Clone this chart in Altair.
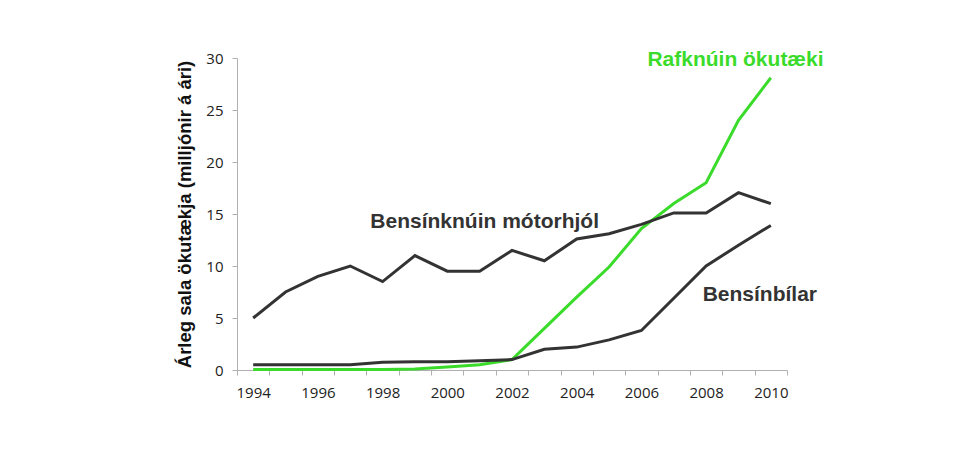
import pandas as pd
import altair as alt

years = list(range(1994, 2011))

# Annual sales, millions per year
electric = [0.05, 0.05, 0.05, 0.05, 0.05, 0.1, 0.3, 0.5, 1.0, 4.0, 7.0, 9.9, 13.6, 16.0, 18.0, 24.0, 28.1]
motorcycles = [5.0, 7.5, 9.0, 10.0, 8.5, 11.0, 9.5, 9.5, 11.5, 10.5, 12.6, 13.1, 14.0, 15.1, 15.1, 17.05, 16.0]
cars = [0.5, 0.5, 0.5, 0.5, 0.75, 0.8, 0.8, 0.9, 1.0, 2.0, 2.2, 2.9, 3.8, 6.9, 10.0, 12.0, 13.9]

series_names = ["Rafknúin ökutæki", "Bensínknúin mótorhjól", "Bensínbílar"]
series_values = [electric, motorcycles, cars]
series_colors = ["#3BDB2B", "#333333", "#333333"]

rows = []
for name, vals in zip(series_names, series_values):
    for y, v in zip(years, vals):
        rows.append({"Ár": y, "Sala": v, "Röð": name})
df = pd.DataFrame(rows)

# label anchors (year, value) for the in-chart series names
label_years = [2009, 2001, 2010]
label_values = [29.8, 14.2, 7.2]
label_dx = [-3, 5, -11]
labels = pd.DataFrame({"Ár": label_years, "Sala": label_values, "Röð": series_names})

x_scale = alt.Scale(type="band", paddingInner=0, paddingOuter=0)
y_scale = alt.Scale(domain=[0, 30])
color_scale = alt.Scale(domain=series_names, range=series_colors)

lines = alt.Chart(df).mark_line(strokeWidth=3).encode(
    x=alt.X("Ár:O", scale=x_scale, axis=alt.Axis(
        title=None, labelAngle=0, tickBand="extent",
        labelExpr="datum.value % 2 == 0 ? datum.label : ''",
        labelFont="Open Sans", labelFontSize=15, labelColor="#222222",
        labelPadding=10, domainColor="#b0b0b0", tickColor="#b0b0b0", tickSize=5,
    )),
    y=alt.Y("Sala:Q", scale=y_scale, axis=alt.Axis(
        title="Árleg sala ökutækja (milljónir á ári)", values=[0, 5, 10, 15, 20, 25, 30],
        grid=False, labelFont="Open Sans", labelFontSize=15, labelColor="#222222",
        labelPadding=9, domainColor="#b0b0b0", tickColor="#b0b0b0", tickSize=5,
        titleFont="Liberation Sans", titleFontSize=18.5, titleFontWeight="bold",
        titleColor="#111111", titlePadding=11,
    )),
    color=alt.Color("Röð:N", scale=color_scale, legend=None),
    detail="Röð:N",
)

texts = alt.layer(*[
    alt.Chart(labels.iloc[[i]]).mark_text(
        font="Liberation Sans", fontSize=21, fontWeight="bold", align="center",
        baseline="middle", dx=label_dx[i], color=series_colors[i]
    ).encode(
        x=alt.X("Ár:O", scale=x_scale),
        y=alt.Y("Sala:Q", scale=y_scale),
        text="Röð:N",
    )
    for i in range(len(series_names))
])

chart = alt.layer(lines, texts).properties(
    width=550, height=312,
    autosize=alt.AutoSizeParams(type="none"),
    padding={"left": 229, "top": 50, "right": 160, "bottom": 60},
    background="white",
).configure_view(stroke=None)

chart.save("out.html", embed_options={"renderer": "svg", "actions": False})
